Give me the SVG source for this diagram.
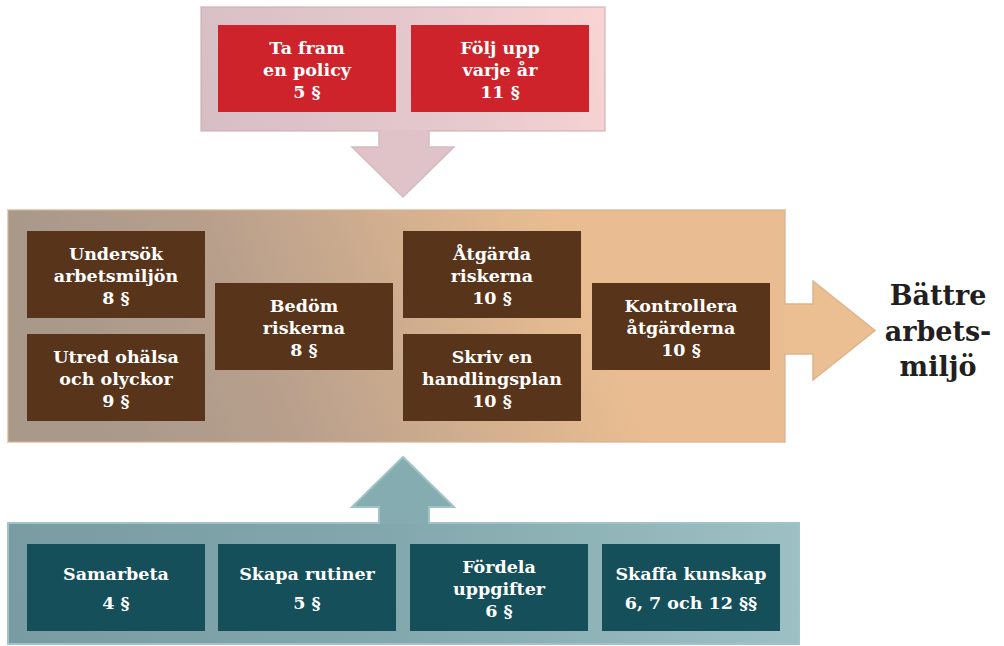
<svg xmlns="http://www.w3.org/2000/svg" width="1004" height="646" viewBox="0 0 1004 646">
  <defs>
    <linearGradient id="gTop" gradientUnits="userSpaceOnUse" x1="201" y1="131" x2="605" y2="7">
      <stop offset="0" stop-color="#d7bec5"/>
      <stop offset="0.55" stop-color="#e4c8cd"/>
      <stop offset="1" stop-color="#f9d4d3"/>
    </linearGradient>
    <linearGradient id="gMid" gradientUnits="userSpaceOnUse" x1="100" y1="420" x2="560" y2="230">
      <stop offset="0" stop-color="#a8998b"/>
      <stop offset="0.35" stop-color="#b89f8c"/>
      <stop offset="1" stop-color="#e9bd91"/>
    </linearGradient>
    <linearGradient id="gBot" gradientUnits="userSpaceOnUse" x1="8" y1="600" x2="799" y2="560">
      <stop offset="0" stop-color="#789ca1"/>
      <stop offset="0.45" stop-color="#81a6ab"/>
      <stop offset="1" stop-color="#9cc0c3"/>
    </linearGradient>
    <style>
      .lbl { font-family: "DejaVu Serif", "Liberation Serif", serif; font-weight: bold; font-size: 17.5px; fill: #ffffff; text-anchor: middle; }
      .big { font-family: "DejaVu Serif", "Liberation Serif", serif; font-weight: bold; font-size: 27px; fill: #231f20; text-anchor: middle; }
      .red { fill: #cf232b; }
      .brown { fill: #57341a; }
      .teal { fill: #154f5a; }
    </style>
  </defs>
  <rect width="1004" height="646" fill="#ffffff"/>

  <!-- containers -->
  <g id="container-top">
    <rect x="201" y="7" width="404" height="124" fill="url(#gTop)" stroke="#c9aeb5" stroke-opacity="0.55" stroke-width="2"/>
  </g>
  <g id="container-middle">
    <rect x="8" y="210" width="777" height="232" fill="url(#gMid)" stroke="#d8b08f" stroke-opacity="0.6" stroke-width="2"/>
  </g>
  <g id="container-bottom">
    <rect x="8" y="523" width="791" height="121" fill="url(#gBot)" stroke="#9fc3c6" stroke-width="2"/>
  </g>

  <!-- connectors -->
  <g id="connectors">
    <path d="M379,130 V147 H352 L403,197 L454,147 H429 V130" fill="#dfc3c9" stroke="#d6bac0" stroke-width="1.5"/>
    <path d="M784,304 H813 V281 L875,330.5 L813,380 V354 H784" fill="#ebbf92" stroke="#ddb48c" stroke-width="1.5"/>
    <path d="M379,524 V507 H352 L403,457 L454,507 H429 V524" fill="#85adb1" stroke="#a0c3c6" stroke-width="2"/>
  </g>

  <!-- top nodes -->
  <g id="n-ta-fram">
    <rect class="red" x="218" y="25" width="178" height="87"/>
    <text class="lbl" x="307" y="53.5">Ta fram</text>
    <text class="lbl" x="307" y="75.5">en policy</text>
    <text class="lbl" x="307" y="97.5">5 §</text>
  </g>
  <g id="n-folj-upp">
    <rect class="red" x="411" y="25" width="178" height="87"/>
    <text class="lbl" x="500" y="53.5">Följ upp</text>
    <text class="lbl" x="500" y="75.5">varje år</text>
    <text class="lbl" x="500" y="97.5">11 §</text>
  </g>

  <!-- middle nodes -->
  <g id="n-undersok">
    <rect class="brown" x="27" y="231" width="178" height="87"/>
    <text class="lbl" x="116" y="259.5">Undersök</text>
    <text class="lbl" x="116" y="281.5">arbetsmiljön</text>
    <text class="lbl" x="116" y="303.5">8 §</text>
  </g>
  <g id="n-utred">
    <rect class="brown" x="27" y="334" width="178" height="87"/>
    <text class="lbl" x="116" y="362.5">Utred ohälsa</text>
    <text class="lbl" x="116" y="384.5">och olyckor</text>
    <text class="lbl" x="116" y="406.5">9 §</text>
  </g>
  <g id="n-bedom">
    <rect class="brown" x="215" y="283" width="178" height="87"/>
    <text class="lbl" x="304" y="311.5">Bedöm</text>
    <text class="lbl" x="304" y="333.5">riskerna</text>
    <text class="lbl" x="304" y="355.5">8 §</text>
  </g>
  <g id="n-atgarda">
    <rect class="brown" x="403" y="231" width="178" height="87"/>
    <text class="lbl" x="492" y="259.5">Åtgärda</text>
    <text class="lbl" x="492" y="281.5">riskerna</text>
    <text class="lbl" x="492" y="303.5">10 §</text>
  </g>
  <g id="n-skriv">
    <rect class="brown" x="403" y="334" width="178" height="87"/>
    <text class="lbl" x="492" y="362.5">Skriv en</text>
    <text class="lbl" x="492" y="384.5">handlingsplan</text>
    <text class="lbl" x="492" y="406.5">10 §</text>
  </g>
  <g id="n-kontrollera">
    <rect class="brown" x="592" y="283" width="178" height="87"/>
    <text class="lbl" x="681" y="311.5">Kontrollera</text>
    <text class="lbl" x="681" y="333.5">åtgärderna</text>
    <text class="lbl" x="681" y="355.5">10 §</text>
  </g>

  <!-- result -->
  <g id="n-battre">
    <text class="big" x="938" y="305">Bättre</text>
    <text class="big" x="938" y="341">arbets-</text>
    <text class="big" x="938" y="376">miljö</text>
  </g>

  <!-- bottom nodes -->
  <g id="n-samarbeta">
    <rect class="teal" x="27" y="544" width="178" height="87"/>
    <text class="lbl" x="116" y="580">Samarbeta</text>
    <text class="lbl" x="116" y="609">4 §</text>
  </g>
  <g id="n-skapa">
    <rect class="teal" x="218" y="544" width="178" height="87"/>
    <text class="lbl" x="307" y="580">Skapa rutiner</text>
    <text class="lbl" x="307" y="609">5 §</text>
  </g>
  <g id="n-fordela">
    <rect class="teal" x="410" y="544" width="178" height="87"/>
    <text class="lbl" x="499" y="572.5">Fördela</text>
    <text class="lbl" x="499" y="594.5">uppgifter</text>
    <text class="lbl" x="499" y="616.5">6 §</text>
  </g>
  <g id="n-skaffa">
    <rect class="teal" x="602" y="544" width="178" height="87"/>
    <text class="lbl" x="691" y="580">Skaffa kunskap</text>
    <text class="lbl" x="691" y="609">6, 7 och 12 §§</text>
  </g>
</svg>
